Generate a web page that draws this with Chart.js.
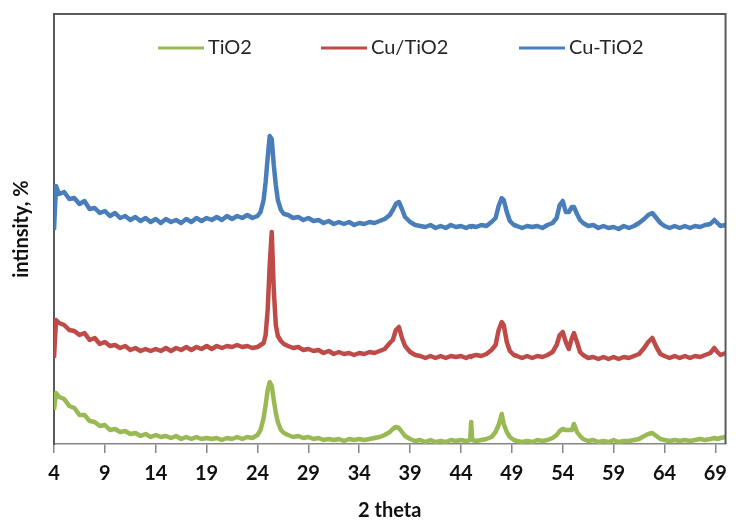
<!DOCTYPE html>
<html>
<head>
<meta charset="utf-8">
<title>XRD TiO2</title>
<script src="https://cdn.jsdelivr.net/npm/chart.js@4.4.0/dist/chart.umd.min.js"></script>
<style>
  html, body { margin: 0; padding: 0; background: #fff; }
  #grafico { display: block; }
</style>
</head>
<body>
<canvas id="grafico" width="736" height="523"></canvas>
<script>
// angulos 2 theta (grados)
const theta = [
  4, 4.2, 4.5, 5, 5.5, 6, 6.5, 7, 7.5, 8, 8.5, 9, 9.5, 10, 10.5, 11, 11.5, 12, 12.5, 13, 13.5,
  14, 14.5, 15, 15.5, 16, 16.5, 17, 17.5, 18, 18.5, 19, 19.5, 20, 20.5, 21, 21.5, 22, 22.5, 23, 23.5,
  24, 24.3, 24.6, 24.8, 25.0, 25.2, 25.4, 25.6, 25.8, 26.0, 26.3, 26.6,
  27, 27.5, 28, 28.5, 29, 29.5, 30, 30.5, 31, 31.5, 32, 32.5, 33, 33.5, 34, 34.5, 35, 35.5, 36, 36.5,
  37, 37.3, 37.6, 37.9, 38.2, 38.5,
  39, 39.5, 40, 40.5, 41, 41.5, 42, 42.5, 43, 43.5, 44, 44.5, 44.9, 45.0, 45.1, 45.5, 46, 46.5, 47,
  47.4, 47.7, 48.0, 48.2, 48.5, 48.8, 49.2,
  49.5, 50, 50.5, 51, 51.5, 52, 52.5, 53,
  53.4, 53.7, 54.0, 54.3, 54.6, 54.9, 55.1, 55.4, 55.7,
  56, 56.5, 57, 57.5, 58, 58.5, 59, 59.5, 60, 60.5, 61, 61.5, 62,
  62.4, 62.8, 63.2, 63.6,
  64, 64.5, 65, 65.5, 66, 66.5, 67, 67.5, 68, 68.5,
  68.9, 69.2, 69.5, 70
];

// intensidades (unidades arbitrarias, curvas desplazadas)
const tio2 = [
  34, 51, 47, 45, 38, 36, 29, 29, 23, 22, 18, 19, 14, 15, 12, 13, 10, 11, 8, 10, 7,
  9, 7, 8, 6, 8, 5, 7, 5, 7, 5, 6, 5, 6, 4, 6, 5, 7, 5, 7, 6,
  9, 14, 26, 39, 54, 62, 58, 44, 31, 22, 14, 11,
  9, 7, 8, 6, 7, 5, 6, 4, 5, 4, 5, 3, 5, 4, 5, 4, 5, 6, 7, 9,
  12, 15, 17, 16, 12, 8,
  5, 3, 4, 2, 4, 2, 3, 2, 4, 3, 4, 3, 4, 22, 4, 3, 4, 5, 7,
  12, 19, 30, 20, 12, 7, 4,
  3, 2, 3, 2, 4, 3, 4, 6,
  9, 13, 15, 14, 14, 14, 20, 12, 8,
  5, 3, 4, 2, 3, 2, 4, 2, 3, 3, 4, 5, 8,
  10, 11, 8, 5,
  4, 3, 4, 3, 4, 3, 4, 5, 4, 5,
  6, 5, 6, 7
];

const cuSobreTio2 = [
  86, 124, 121, 119, 114, 113, 109, 111, 104, 106, 100, 102, 98, 99, 96, 98, 94, 96, 93, 95, 93,
  95, 93, 96, 93, 96, 94, 97, 94, 97, 95, 98, 95, 98, 96, 98, 97, 99, 97, 98, 96,
  97, 99, 101, 109, 134, 179, 212, 154, 119, 108, 103, 100,
  98, 96, 97, 94, 95, 93, 94, 91, 93, 90, 92, 90, 91, 89, 91, 90, 92, 91, 93, 95,
  101, 104, 114, 117, 106, 98,
  92, 89, 88, 86, 88, 86, 88, 86, 88, 87, 88, 86, 88, 87, 88, 89, 88, 90, 94,
  99, 114, 122, 119, 102, 93, 89,
  88, 86, 88, 86, 88, 87, 89, 92,
  99, 109, 112, 102, 95, 106, 111, 102, 92,
  89, 86, 87, 85, 87, 85, 87, 85, 87, 86, 88, 90, 96,
  102, 106, 97, 90,
  88, 86, 88, 86, 88, 86, 88, 87, 89, 91,
  96, 92, 89, 91
];

const cuGuionTio2 = [
  214, 258, 250, 252, 245, 246, 240, 243, 235, 236, 231, 233, 228, 231, 226, 228, 224, 227, 223, 226, 222,
  225, 221, 225, 222, 224, 221, 225, 222, 226, 223, 226, 224, 227, 224, 228, 225, 228, 226, 229, 226,
  228, 232, 244, 262, 286, 308, 305, 279, 259, 244, 234, 230,
  229, 226, 227, 224, 226, 223, 224, 221, 223, 220, 222, 220, 222, 219, 221, 220, 222, 221, 223, 225,
  229, 234, 240, 242, 235, 227,
  222, 219, 218, 217, 219, 216, 218, 216, 219, 217, 218, 216, 218, 217, 218, 217, 219, 218, 222,
  226, 238, 246, 244, 232, 223, 219,
  218, 216, 218, 217, 218, 216, 219, 221,
  226, 239, 243, 232, 232, 237, 237, 230, 224,
  221, 218, 219, 216, 218, 216, 217, 215, 218, 216, 218, 221, 225,
  229, 231, 226, 221,
  218, 216, 218, 216, 218, 216, 218, 217, 219, 220,
  224, 221, 218, 219
];

const series = ['TiO2', 'Cu/TiO2', 'Cu-TiO2'];
const colores = ['#98B954', '#BE4B48', '#4A7EBB'];
const xTicks = [4, 9, 14, 19, 24, 29, 34, 39, 44, 49, 54, 59, 64, 69];

const puntos = vals => theta.map((t, i) => ({ x: t, y: vals[i] }));

/* ================================
   MARCO Y LEYENDA (dentro del area)
================================= */
const marcoPlugin = {
  id: 'marco',
  afterDraw(chart) {
    const { ctx, chartArea: a } = chart;
    ctx.save();
    ctx.strokeStyle = '#595959';
    ctx.lineWidth = 2;
    ctx.beginPath();
    ctx.moveTo(a.left - 1, a.top);
    ctx.lineTo(a.right, a.top);
    ctx.lineTo(a.right, a.bottom);
    ctx.stroke();

    // leyenda como en Excel: linea + texto
    const inicio = [158, 321, 519];
    ctx.font = '20px Lato, "Open Sans", sans-serif';
    ctx.textBaseline = 'middle';
    chart.data.datasets.forEach((ds, i) => {
      ctx.strokeStyle = ds.borderColor;
      ctx.lineWidth = 3;
      ctx.beginPath();
      ctx.moveTo(inicio[i], 48);
      ctx.lineTo(inicio[i] + 46, 48);
      ctx.stroke();
      ctx.fillStyle = '#262626';
      ctx.fillText(ds.label, inicio[i] + 50, 48);
    });
    ctx.restore();
  }
};

new Chart(document.getElementById('grafico'), {
  type: 'line',
  data: {
    datasets: [tio2, cuSobreTio2, cuGuionTio2].map((vals, i) => ({
      label: series[i],
      data: puntos(vals),
      borderColor: colores[i],
      backgroundColor: colores[i],
      borderWidth: 4.5,
      borderJoinStyle: 'round',
      pointRadius: 0,
      tension: 0,
      fill: false
    }))
  },
  options: {
    responsive: false,
    animation: false,
    devicePixelRatio: 1,
    layout: { padding: { left: 0, right: 2, top: 14, bottom: 0 } },
    plugins: {
      legend: { display: false },
      tooltip: { enabled: false }
    },
    scales: {
      x: {
        type: 'linear',
        min: 4,
        max: 70,
        afterFit: s => { s.height = 79; },
        afterBuildTicks: s => { s.ticks = xTicks.map(v => ({ value: v })); },
        border: { display: true, color: '#868686', width: 1.5 },
        grid: { drawOnChartArea: false, drawTicks: true, tickLength: 9, color: '#868686', lineWidth: 1.5 },
        ticks: {
          autoSkip: false,
          maxRotation: 0,
          padding: 9,
          color: '#111',
          font: { family: 'Lato, "Open Sans", sans-serif', size: 20, weight: 'bold' }
        },
        title: {
          display: true,
          text: '2 theta',
          color: '#111',
          padding: { top: 0, bottom: 0 },
          font: { family: 'Lato, "Open Sans", sans-serif', size: 20, weight: 'bold' }
        }
      },
      y: {
        min: 0,
        max: 430,
        afterFit: s => { s.width = 54; },
        border: { display: true, color: '#595959', width: 2 },
        grid: { display: false },
        ticks: { display: false },
        title: {
          display: true,
          text: 'intinsity, %',
          color: '#111',
          padding: { top: 10, bottom: 0 },
          font: { family: 'Lato, "Open Sans", sans-serif', size: 20, weight: 'bold' }
        }
      }
    }
  },
  plugins: [marcoPlugin]
});
</script>
</body>
</html>
